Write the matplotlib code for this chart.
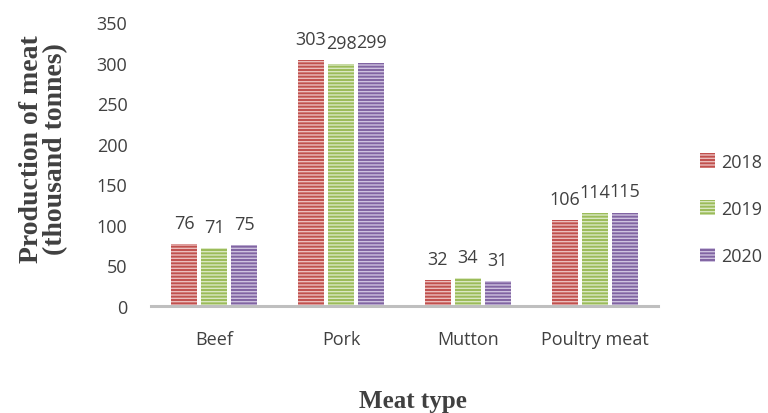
import matplotlib
matplotlib.use("Agg")
import matplotlib.pyplot as plt
import numpy as np

categories = ["Beef", "Pork", "Mutton", "Poultry meat"]
years = ["2018", "2019", "2020"]
v2018 = [76, 303, 32, 106]
v2019 = [71, 298, 34, 114]
v2020 = [75, 299, 31, 115]
series = [v2018, v2019, v2020]
colors = ["#C0504D", "#9BBB59", "#8064A2"]
stripes = ["#EBBDBC", "#DAE8C2", "#CEC2DF"]

plt.rcParams["hatch.linewidth"] = 1.0

fig = plt.figure(figsize=(7.68, 4.14), dpi=100)
ax = fig.add_axes([0.1966, 0.2585, 0.6602, 0.686])

x = np.arange(len(categories))
w = 0.205
step = 0.237
tickfont = dict(family=["Open Sans", "DejaVu Sans"], size=13, color="#404040")
for i, (vals, c, s) in enumerate(zip(series, colors, stripes)):
    pos = x + (i - 1) * step
    bars = ax.bar(pos, vals, width=w, facecolor=c, edgecolor=s, linewidth=0,
                  hatch="-----", label=years[i])
    for b, v in zip(bars, vals):
        ax.text(b.get_x() + b.get_width() / 2, v + 15, str(v), ha="center",
                va="bottom", **tickfont)

ax.set_xlim(-0.5, 3.5)
ax.set_ylim(0, 350)
ax.set_yticks(range(0, 351, 50))
ax.set_xticks(x)
ax.set_xticklabels(categories, **tickfont)
ax.set_yticklabels([str(t) for t in range(0, 351, 50)], **tickfont)
ax.tick_params(axis="y", length=0, pad=17)
ax.tick_params(axis="x", length=0, pad=17)
for sp in ["top", "right", "left"]:
    ax.spines[sp].set_visible(False)
ax.spines["bottom"].set_color("#BFBFBF")
ax.spines["bottom"].set_linewidth(2.2)

fig.text(0.538, 0.031, "Meat type", ha="center", va="center",
         family="Liberation Serif", weight="bold", size=18, color="#404040")
fig.text(0.057, 0.64, "Production of meat\n(thousand tonnes)", ha="center", va="center",
         rotation=90, family="Liberation Serif", weight="bold", size=20,
         color="#404040", linespacing=0.95)

leg = fig.legend(loc="center left", bbox_to_anchor=(0.911, 0.493), frameon=False,
                 borderaxespad=0, borderpad=0,
                 prop=dict(family="Open Sans", size=13), labelspacing=1.62,
                 handlelength=0.85, handleheight=0.85, handletextpad=0.35)
for t in leg.get_texts():
    t.set_color("#404040")

fig.savefig("out.png", dpi=100)
